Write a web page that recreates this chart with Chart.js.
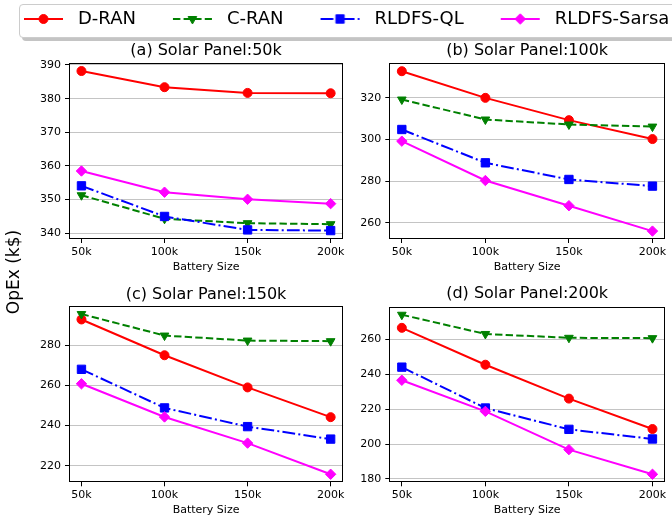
<!DOCTYPE html>
<html>
<head>
<meta charset="utf-8">
<script src="https://cdn.jsdelivr.net/npm/chart.js@4.4.0/dist/chart.umd.min.js"></script>
<style>
html,body{margin:0;padding:0;background:#fff;}
body{width:672px;height:521px;overflow:hidden;position:relative;font-family:'DejaVu Sans',sans-serif;}
canvas{position:absolute;}
#legendBox{position:absolute;left:19px;top:4px;width:700px;height:32px;border:1px solid #cccccc;border-radius:4px;background:#fff;box-shadow:3px 3px 0 #c4c4c4;}
#ylab{position:absolute;width:140px;height:20px;line-height:20px;text-align:center;font-size:17px;color:#000;white-space:nowrap;transform:rotate(-90deg);}
</style>
</head>
<body>
<div id="legendBox"></div>
<canvas id="legend" width="760" height="160" style="left:-13px;top:-26px;width:760px;height:160px"></canvas>
<canvas id="pa" width="350" height="240" style="left:0px;top:40px;width:350px;height:240px"></canvas>
<canvas id="pb" width="342" height="240" style="left:330px;top:40px;width:342px;height:240px"></canvas>
<canvas id="pc" width="350" height="238" style="left:0px;top:283px;width:350px;height:238px"></canvas>
<canvas id="pd" width="342" height="238" style="left:330px;top:283px;width:342px;height:238px"></canvas>
<div id="ylab">OpEx (k$)</div>
<script>
// ---------------- data ----------------
const batterySizes = ['50k', '100k', '150k', '200k'];
const seriesNames = ['D-RAN', 'C-RAN', 'RLDFS-QL', 'RLDFS-Sarsa'];
const panelTitles = ['(a) Solar Panel:50k', '(b) Solar Panel:100k', '(c) Solar Panel:150k', '(d) Solar Panel:200k'];
const xAxisLabel = 'Battery Size';
const yAxisLabel = 'OpEx (k$)';

// (a) Solar Panel 50k
const dranA   = [388.2, 383.4, 381.7, 381.6];
const cranA   = [351.3, 344.3, 343.0, 342.7];
const qlA     = [354.1, 345.0, 341.0, 340.8];
const sarsaA  = [358.5, 352.2, 350.1, 348.8];
// (b) Solar Panel 100k
const dranB   = [332.8, 320.0, 309.3, 300.2];
const cranB   = [319.2, 309.6, 307.2, 306.2];
const qlB     = [304.8, 288.8, 280.8, 277.6];
const sarsaB  = [299.2, 280.3, 268.2, 256.0];
// (c) Solar Panel 150k
const dranC   = [292.8, 275.0, 259.0, 244.2];
const cranC   = [295.5, 284.8, 282.3, 282.0];
const qlC     = [268.0, 248.8, 239.5, 233.3];
const sarsaC  = [260.8, 244.3, 231.3, 215.8];
// (d) Solar Panel 200k
const dranD   = [266.5, 245.4, 226.0, 208.6];
const cranD   = [274.0, 263.0, 260.8, 260.6];
const qlD     = [244.0, 220.6, 208.4, 202.9];
const sarsaD  = [236.5, 218.7, 196.8, 182.7];

// y tick labels and axis limits per panel
const yTicksA = [340, 350, 360, 370, 380, 390];
const yTicksB = [260, 280, 300, 320];
const yTicksC = [220, 240, 260, 280];
const yTicksD = [180, 200, 220, 240, 260];
const yLimitsA = [338.3, 390.5];
const yLimitsB = [252.2, 336.6];
const yLimitsC = [211.8, 299.5];
const yLimitsD = [178.1, 278.6];

// ---------------- styles ----------------
Chart.defaults.font.family = "'DejaVu Sans', sans-serif";
Chart.defaults.color = '#000';

const seriesStyles = [
  {color: '#ff0000', dash: [], pointStyle: 'circle', radius: 4.5, rotation: 0},
  {color: '#008000', dash: [7.4, 3.2], pointStyle: 'triangle', radius: 5.0, rotation: 180},
  {color: '#0000ff', dash: [12.8, 3.2, 2, 3.2], pointStyle: 'rect', radius: 5.9, rotation: 0},
  {color: '#ff00ff', dash: [], pointStyle: 'rectRot', radius: 5.2, rotation: 0}
];

const framePlugin = {
  id: 'frame',
  afterDatasetsDraw(chart) {
    const a = chart.chartArea, ctx = chart.ctx;
    const l = Math.round(a.left) + 0.5, r = Math.round(a.right) - 0.5;
    const t = Math.round(a.top) + 0.5, b = Math.round(a.bottom) - 0.5;
    ctx.save();
    ctx.strokeStyle = '#000';
    ctx.lineWidth = 1;
    ctx.strokeRect(l, t, r - l, b - t);
    ctx.restore();
  }
};

function makePanel(id, canvasX, canvasY, canvasW, canvasH, plot, titleCenterY, title, series, yTicks, yLimits) {
  const yAxisW = plot.l - canvasX;
  const padRight = canvasX + canvasW - plot.r;
  const topH = plot.t - canvasY;
  const bottomH = canvasY + canvasH - plot.b;
  const tpt = titleCenterY - canvasY - 9.6;
  const xTitlePad = bottomH - 6.6 - 27.7;
  const datasets = series.map((vals, i) => {
    const s = seriesStyles[i];
    return {
      label: seriesNames[i],
      data: vals.map((v, k) => ({x: k, y: v})),
      borderColor: s.color,
      backgroundColor: s.color,
      borderWidth: 2,
      borderDash: s.dash,
      pointStyle: s.pointStyle,
      pointRadius: s.radius,
      pointRotation: s.rotation,
      pointBorderWidth: 1,
      pointBorderColor: s.color,
      pointBackgroundColor: s.color,
      tension: 0,
      fill: false,
      order: series.length - 1 - i
    };
  });
  return new Chart(document.getElementById(id), {
    type: 'line',
    data: {datasets},
    plugins: [framePlugin],
    options: {
      responsive: false,
      animation: false,
      devicePixelRatio: 1,
      layout: {padding: {left: 0, right: padRight, top: 0, bottom: 0}},
      plugins: {legend: {display: false}, tooltip: {enabled: false}, title: {display: false}},
      scales: {
        x: {
          type: 'linear', position: 'bottom',
          min: -0.15, max: batterySizes.length - 1 + 0.15,
          afterBuildTicks: (sc) => { sc.ticks = batterySizes.map((_, k) => ({value: k})); },
          afterFit: (sc) => { sc.height = bottomH; },
          ticks: {autoSkip: false, maxRotation: 0, padding: 2.5, font: {size: 11}, color: '#000',
                  callback: (v) => batterySizes[v]},
          grid: {display: true, drawOnChartArea: false, drawTicks: true, tickLength: 4, tickColor: '#000', lineWidth: 1},
          border: {display: false},
          title: {display: true, text: xAxisLabel, font: {size: 11}, color: '#000', padding: {top: 0, bottom: xTitlePad}}
        },
        x2: {
          type: 'linear', position: 'top',
          min: -0.15, max: batterySizes.length - 1 + 0.15,
          afterFit: (sc) => { sc.height = topH; },
          ticks: {display: false},
          grid: {display: false},
          border: {display: false},
          title: {display: true, text: title, font: {size: 16}, color: '#000', padding: {top: tpt, bottom: 0}}
        },
        y: {
          type: 'linear', position: 'left',
          min: yLimits[0], max: yLimits[1],
          afterBuildTicks: (sc) => { sc.ticks = yTicks.map(v => ({value: v})); },
          afterFit: (sc) => { sc.width = yAxisW; },
          ticks: {padding: 4, font: {size: 11}, color: '#000', callback: (v) => String(v)},
          grid: {display: true, drawOnChartArea: true, drawTicks: true, tickLength: 4, color: '#c4c4c4', tickColor: '#000', lineWidth: 1},
          border: {display: false}
        }
      }
    }
  });
}

makePanel('pa', 0, 40, 350, 240, {l: 69, r: 344.5, t: 63.3, b: 239}, 50.8, panelTitles[0],
  [dranA, cranA, qlA, sarsaA], yTicksA, yLimitsA);
makePanel('pb', 330, 40, 342, 240, {l: 389.3, r: 665, t: 63.3, b: 239}, 50.8, panelTitles[1],
  [dranB, cranB, qlB, sarsaB], yTicksB, yLimitsB);
makePanel('pc', 0, 283, 350, 238, {l: 69, r: 344.5, t: 306, b: 482.3}, 295, panelTitles[2],
  [dranC, cranC, qlC, sarsaC], yTicksC, yLimitsC);
makePanel('pd', 330, 283, 342, 238, {l: 389.3, r: 665, t: 306.7, b: 482.3}, 294.2, panelTitles[3],
  [dranD, cranD, qlD, sarsaD], yTicksD, yLimitsD);

// ---------------- legend ----------------
function makeIcon(s) {
  const c = document.createElement('canvas');
  c.width = 46; c.height = 20;
  const g = c.getContext('2d');
  g.strokeStyle = s.color; g.lineWidth = 2; g.setLineDash(s.dash);
  g.beginPath(); g.moveTo(1, 10); g.lineTo(40, 10); g.stroke();
  g.setLineDash([]);
  g.fillStyle = s.color; g.strokeStyle = s.color; g.lineWidth = 1;
  if (Chart.helpers && Chart.helpers.drawPoint) {
    Chart.helpers.drawPoint(g, {pointStyle: s.pointStyle, radius: s.radius, rotation: s.rotation, borderWidth: 1}, 20.5, 10);
  } else {
    g.beginPath(); g.arc(20.5, 10, s.radius, 0, Math.PI * 2); g.fill();
  }
  return c;
}
const legendIcons = seriesStyles.map(makeIcon);

document.getElementById('ylab').textContent = yAxisLabel;
const yl = document.getElementById('ylab');
yl.style.left = (12.5 - 70) + 'px';
yl.style.top = (272 - 10) + 'px';

new Chart(document.getElementById('legend'), {
  type: 'line',
  data: {labels: [], datasets: seriesNames.map((n) => ({label: n, data: []}))},
  options: {
    responsive: false, animation: false, devicePixelRatio: 1,
    layout: {padding: 0},
    scales: {x: {display: false}, y: {display: false}},
    plugins: {
      tooltip: {enabled: false},
      title: {display: false},
      legend: {
        display: true, position: 'top', align: 'start',
        labels: {
          usePointStyle: true, pointStyleWidth: 46, padding: 36,
          font: {size: 18}, color: '#000',
          generateLabels: (chart) => chart.data.datasets.map((d, i) => ({
            text: d.label, pointStyle: legendIcons[i], datasetIndex: i, hidden: false,
            lineWidth: 0, fillStyle: 'rgba(0,0,0,0)', strokeStyle: 'rgba(0,0,0,0)', fontColor: '#000'
          }))
        }
      }
    }
  }
});
</script>
</body>
</html>
